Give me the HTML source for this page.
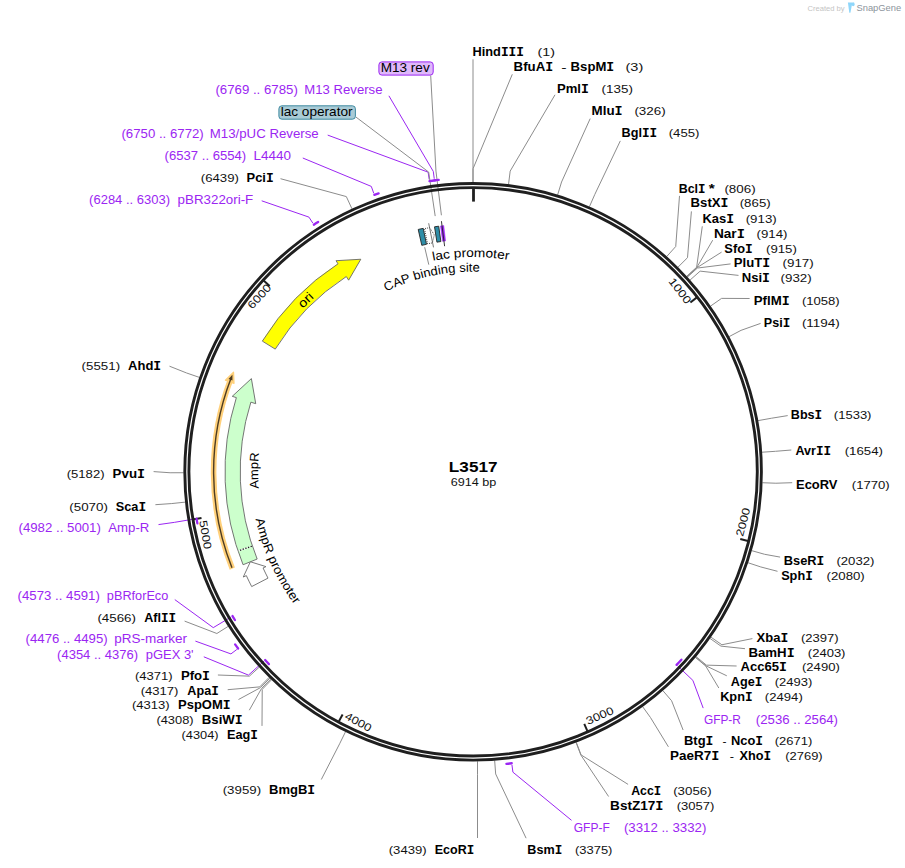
<!DOCTYPE html>
<html><head><meta charset="utf-8"><style>
html,body{margin:0;padding:0;background:#fff;width:905px;height:868px;overflow:hidden}
svg{display:block}
text{font-family:"Liberation Sans", sans-serif}
</style></head><body>
<svg width="905" height="868" viewBox="0 0 905 868">
<rect width="905" height="868" fill="#fff"/>
<polyline points="473.00,182.30 473.00,168.80 473.00,59.30" fill="none" stroke="#8c8c8c" stroke-width="1"/>
<polyline points="473.00,182.30 473.00,168.80 512.30,74.30" fill="none" stroke="#8c8c8c" stroke-width="1"/>
<polyline points="508.53,184.48 510.18,171.08 555.00,94.80" fill="none" stroke="#8c8c8c" stroke-width="1"/>
<polyline points="557.62,194.91 561.56,182.00 590.20,118.60" fill="none" stroke="#8c8c8c" stroke-width="1"/>
<polyline points="589.42,206.70 594.85,194.34 620.30,140.90" fill="none" stroke="#8c8c8c" stroke-width="1"/>
<polyline points="666.69,256.55 675.72,246.51 679.50,195.90" fill="none" stroke="#8c8c8c" stroke-width="1"/>
<polyline points="677.95,267.23 687.50,257.69 691.40,211.40" fill="none" stroke="#8c8c8c" stroke-width="1"/>
<polyline points="686.67,276.36 696.63,267.25 702.30,226.30" fill="none" stroke="#8c8c8c" stroke-width="1"/>
<polyline points="686.85,276.55 696.82,267.45 712.70,240.20" fill="none" stroke="#8c8c8c" stroke-width="1"/>
<polyline points="687.03,276.75 697.00,267.65 721.60,252.10" fill="none" stroke="#8c8c8c" stroke-width="1"/>
<polyline points="687.38,277.14 697.37,268.06 730.60,263.90" fill="none" stroke="#8c8c8c" stroke-width="1"/>
<polyline points="690.02,280.08 700.13,271.14 738.50,275.40" fill="none" stroke="#8c8c8c" stroke-width="1"/>
<polyline points="710.50,306.11 721.57,298.39 749.60,298.50" fill="none" stroke="#8c8c8c" stroke-width="1"/>
<polyline points="729.11,336.64 741.05,330.34 760.60,323.40" fill="none" stroke="#8c8c8c" stroke-width="1"/>
<polyline points="758.04,420.64 771.33,418.25 787.70,415.60" fill="none" stroke="#8c8c8c" stroke-width="1"/>
<polyline points="761.94,452.22 775.41,451.30 791.30,450.00" fill="none" stroke="#8c8c8c" stroke-width="1"/>
<polyline points="762.39,482.72 775.88,483.22 792.20,482.70" fill="none" stroke="#8c8c8c" stroke-width="1"/>
<polyline points="751.66,550.64 764.65,554.31 780.10,557.10" fill="none" stroke="#8c8c8c" stroke-width="1"/>
<polyline points="747.96,562.71 760.77,566.95 777.50,571.30" fill="none" stroke="#8c8c8c" stroke-width="1"/>
<polyline points="710.80,637.05 721.89,644.76 752.40,638.60" fill="none" stroke="#8c8c8c" stroke-width="1"/>
<polyline points="709.90,638.35 720.94,646.11 745.00,648.70" fill="none" stroke="#8c8c8c" stroke-width="1"/>
<polyline points="696.00,656.53 706.40,665.14 736.60,666.00" fill="none" stroke="#8c8c8c" stroke-width="1"/>
<polyline points="695.50,657.14 705.87,665.78 726.80,675.80" fill="none" stroke="#8c8c8c" stroke-width="1"/>
<polyline points="695.33,657.34 705.69,665.99 718.80,688.00" fill="none" stroke="#8c8c8c" stroke-width="1"/>
<polyline points="662.75,690.53 671.59,700.73 683.10,730.00" fill="none" stroke="#8c8c8c" stroke-width="1"/>
<polyline points="642.54,706.54 650.44,717.48 668.40,746.80" fill="none" stroke="#8c8c8c" stroke-width="1"/>
<polyline points="576.28,742.29 581.09,754.90 628.10,784.40" fill="none" stroke="#8c8c8c" stroke-width="1"/>
<polyline points="576.03,742.38 580.83,755.00 608.60,796.50" fill="none" stroke="#8c8c8c" stroke-width="1"/>
<polyline points="494.65,760.50 495.66,773.96 526.10,838.20" fill="none" stroke="#8c8c8c" stroke-width="1"/>
<polyline points="477.50,761.26 477.50,774.76 477.50,838.00" fill="none" stroke="#8c8c8c" stroke-width="1"/>
<polyline points="345.56,731.69 339.62,743.81 321.30,779.50" fill="none" stroke="#8c8c8c" stroke-width="1"/>
<polyline points="271.63,679.69 262.23,689.39 262.00,725.90" fill="none" stroke="#8c8c8c" stroke-width="1"/>
<polyline points="270.87,678.96 261.44,688.62 249.30,710.20" fill="none" stroke="#8c8c8c" stroke-width="1"/>
<polyline points="269.93,678.04 260.46,687.65 238.50,699.50" fill="none" stroke="#8c8c8c" stroke-width="1"/>
<polyline points="269.18,677.30 259.68,686.88 227.70,689.70" fill="none" stroke="#8c8c8c" stroke-width="1"/>
<polyline points="259.35,667.05 249.38,676.15 217.90,675.00" fill="none" stroke="#8c8c8c" stroke-width="1"/>
<polyline points="228.28,626.31 216.86,633.51 184.60,621.10" fill="none" stroke="#8c8c8c" stroke-width="1"/>
<polyline points="185.19,502.13 171.77,503.55 155.40,504.70" fill="none" stroke="#8c8c8c" stroke-width="1"/>
<polyline points="183.60,472.72 170.10,472.76 153.60,471.60" fill="none" stroke="#8c8c8c" stroke-width="1"/>
<polyline points="199.42,377.40 186.66,373.00 169.50,366.20" fill="none" stroke="#8c8c8c" stroke-width="1"/>
<polyline points="351.98,208.86 346.33,196.59 280.50,178.70" fill="none" stroke="#8c8c8c" stroke-width="1"/>
<polyline points="231.18,616.90 213.25,627.65 174.80,599.60" fill="none" stroke="#9b26f2" stroke-width="1"/>
<polyline points="236.84,649.46 230.93,653.91 195.40,641.10" fill="none" stroke="#9b26f2" stroke-width="1"/>
<polyline points="263.95,661.11 248.46,675.13 203.80,656.80" fill="none" stroke="#9b26f2" stroke-width="1"/>
<polyline points="194.96,518.88 174.35,522.37 158.50,524.60" fill="none" stroke="#9b26f2" stroke-width="1"/>
<polyline points="312.96,223.34 308.95,217.12 261.70,200.80" fill="none" stroke="#9b26f2" stroke-width="1"/>
<polyline points="373.80,193.38 371.31,186.41 302.80,158.00" fill="none" stroke="#9b26f2" stroke-width="1"/>
<polyline points="429.21,179.48 428.11,172.16 327.70,135.10" fill="none" stroke="#9b26f2" stroke-width="1"/>
<polyline points="434.26,178.76 433.29,171.43 388.90,95.80" fill="none" stroke="#9b26f2" stroke-width="1"/>
<polyline points="677.72,666.00 692.88,680.38 703.20,708.10" fill="none" stroke="#9b26f2" stroke-width="1"/>
<polyline points="511.94,764.84 512.91,772.17 571.50,820.30" fill="none" stroke="#9b26f2" stroke-width="1"/>
<polyline points="435.20,216.09 428.68,172.07 355.90,117.00" fill="none" stroke="#8c8c8c" stroke-width="1"/>
<polyline points="441.42,215.25 435.96,171.08 430.70,75.50" fill="none" stroke="#8c8c8c" stroke-width="1"/>
<circle cx="473.1" cy="471.8" r="288.3" fill="none" stroke="#1f1f1f" stroke-width="2.9"/>
<circle cx="473.1" cy="471.8" r="284.2" fill="none" stroke="#1f1f1f" stroke-width="2.9"/>
<line x1="473.50" y1="187.30" x2="473.50" y2="201.60" stroke="#1f1f1f" stroke-width="2.8"/>
<line x1="697.50" y1="296.91" x2="690.40" y2="302.44" stroke="#1f1f1f" stroke-width="2"/>
<line x1="748.98" y1="541.28" x2="740.26" y2="539.09" stroke="#1f1f1f" stroke-width="2"/>
<line x1="587.89" y1="732.12" x2="584.26" y2="723.88" stroke="#1f1f1f" stroke-width="2"/>
<line x1="338.34" y1="722.36" x2="342.60" y2="714.43" stroke="#1f1f1f" stroke-width="2"/>
<line x1="192.63" y1="519.53" x2="201.51" y2="518.02" stroke="#1f1f1f" stroke-width="2"/>
<line x1="263.04" y1="279.93" x2="269.69" y2="286.00" stroke="#1f1f1f" stroke-width="2"/>
<path d="M234.94,619.99 A280.5,280.5 0 0 1 232.55,616.08" fill="none" stroke="#9b26f2" stroke-width="2.3" stroke-linecap="round"/>
<path d="M238.12,648.50 A294.0,294.0 0 0 1 235.11,644.41" fill="none" stroke="#9b26f2" stroke-width="2.3" stroke-linecap="round"/>
<path d="M268.94,664.15 A280.5,280.5 0 0 1 265.14,660.03" fill="none" stroke="#9b26f2" stroke-width="2.3" stroke-linecap="round"/>
<path d="M197.38,523.38 A280.5,280.5 0 0 1 196.53,518.61" fill="none" stroke="#9b26f2" stroke-width="2.3" stroke-linecap="round"/>
<path d="M313.82,224.68 A294.0,294.0 0 0 1 318.12,221.97" fill="none" stroke="#9b26f2" stroke-width="2.3" stroke-linecap="round"/>
<path d="M374.33,194.89 A294.0,294.0 0 0 1 378.62,193.39" fill="none" stroke="#9b26f2" stroke-width="2.3" stroke-linecap="round"/>
<path d="M429.45,181.06 A294.0,294.0 0 0 1 435.27,180.24" fill="none" stroke="#9b26f2" stroke-width="2.3" stroke-linecap="round"/>
<path d="M434.47,180.35 A294.0,294.0 0 0 1 438.71,179.82" fill="none" stroke="#9b26f2" stroke-width="2.3" stroke-linecap="round"/>
<path d="M681.40,659.66 A280.5,280.5 0 0 1 676.56,664.89" fill="none" stroke="#9b26f2" stroke-width="2.3" stroke-linecap="round"/>
<path d="M511.73,763.25 A294.0,294.0 0 0 1 506.43,763.91" fill="none" stroke="#9b26f2" stroke-width="2.3" stroke-linecap="round"/>
<text transform="translate(472.53,56.00) scale(1.0155,1)" font-size="12.6" font-weight="bold" fill="#000">Hind<tspan font-family="Liberation Mono">III</tspan></text>
<text transform="translate(537.55,56.00) scale(1.2950,1)" font-size="11.0" fill="#111">(1)</text>
<text transform="translate(513.60,70.90) scale(1.0524,1)" font-size="12.6" font-weight="bold" fill="#000">BfuA<tspan font-family="Liberation Mono">I</tspan></text>
<text transform="translate(561.36,70.90) scale(1.4545,1)" font-size="11.0" fill="#000">-</text>
<text transform="translate(570.61,70.90) scale(1.0417,1)" font-size="12.6" font-weight="bold" fill="#000">BspM<tspan font-family="Liberation Mono">I</tspan></text>
<text transform="translate(625.53,70.90) scale(1.3196,1)" font-size="11.0" fill="#111">(3)</text>
<text transform="translate(556.91,92.80) scale(1.0403,1)" font-size="12.6" font-weight="bold" fill="#000">Pml<tspan font-family="Liberation Mono">I</tspan></text>
<text transform="translate(601.60,92.80) scale(1.2195,1)" font-size="11.0" fill="#111">(135)</text>
<text transform="translate(591.60,114.60) scale(1.0610,1)" font-size="12.6" font-weight="bold" fill="#000">Mlu<tspan font-family="Liberation Mono">I</tspan></text>
<text transform="translate(634.40,114.60) scale(1.2195,1)" font-size="11.0" fill="#111">(326)</text>
<text transform="translate(621.54,137.40) scale(1.0065,1)" font-size="12.6" font-weight="bold" fill="#000">Bgl<tspan font-family="Liberation Mono">II</tspan></text>
<text transform="translate(668.71,137.40) scale(1.1950,1)" font-size="11.0" fill="#111">(455)</text>
<text transform="translate(678.75,192.90) scale(0.9871,1)" font-size="12.6" font-weight="bold" fill="#000">Bcl<tspan font-family="Liberation Mono">I</tspan></text>
<text transform="translate(708.70,192.90) scale(1.2210,1)" font-size="12.6" font-weight="bold" fill="#000">*</text>
<text transform="translate(724.40,192.90) scale(1.2195,1)" font-size="11.0" fill="#111">(806)</text>
<text transform="translate(690.61,207.40) scale(1.0454,1)" font-size="12.6" font-weight="bold" fill="#000">BstX<tspan font-family="Liberation Mono">I</tspan></text>
<text transform="translate(739.70,207.40) scale(1.2072,1)" font-size="11.0" fill="#111">(865)</text>
<text transform="translate(702.52,222.70) scale(1.0297,1)" font-size="12.6" font-weight="bold" fill="#000">Kas<tspan font-family="Liberation Mono">I</tspan></text>
<text transform="translate(745.70,222.70) scale(1.2072,1)" font-size="11.0" fill="#111">(913)</text>
<text transform="translate(713.88,237.60) scale(1.0842,1)" font-size="12.6" font-weight="bold" fill="#000">Nar<tspan font-family="Liberation Mono">I</tspan></text>
<text transform="translate(756.61,237.60) scale(1.2031,1)" font-size="11.0" fill="#111">(914)</text>
<text transform="translate(724.34,252.50) scale(1.0179,1)" font-size="12.6" font-weight="bold" fill="#000">Sfo<tspan font-family="Liberation Mono">I</tspan></text>
<text transform="translate(766.01,252.50) scale(1.2031,1)" font-size="11.0" fill="#111">(915)</text>
<text transform="translate(733.81,267.40) scale(1.0446,1)" font-size="12.6" font-weight="bold" fill="#000">PluT<tspan font-family="Liberation Mono">I</tspan></text>
<text transform="translate(782.50,267.40) scale(1.2154,1)" font-size="11.0" fill="#111">(917)</text>
<text transform="translate(741.72,282.40) scale(1.0380,1)" font-size="12.6" font-weight="bold" fill="#000">Nsi<tspan font-family="Liberation Mono">I</tspan></text>
<text transform="translate(780.50,282.40) scale(1.2154,1)" font-size="11.0" fill="#111">(932)</text>
<text transform="translate(753.80,304.90) scale(1.0517,1)" font-size="12.6" font-weight="bold" fill="#000">PflM<tspan font-family="Liberation Mono">I</tspan></text>
<text transform="translate(801.91,304.90) scale(1.1913,1)" font-size="11.0" fill="#111">(1058)</text>
<text transform="translate(763.85,326.70) scale(0.9986,1)" font-size="12.6" font-weight="bold" fill="#000">Psi<tspan font-family="Liberation Mono">I</tspan></text>
<text transform="translate(801.89,326.70) scale(1.2240,1)" font-size="11.0" fill="#111">(1194)</text>
<text transform="translate(790.84,419.40) scale(0.9991,1)" font-size="12.6" font-weight="bold" fill="#000">Bbs<tspan font-family="Liberation Mono">I</tspan></text>
<text transform="translate(833.82,419.40) scale(1.1848,1)" font-size="11.0" fill="#111">(1533)</text>
<text transform="translate(795.45,454.50) scale(0.9991,1)" font-size="12.6" font-weight="bold" fill="#000">Avr<tspan font-family="Liberation Mono">II</tspan></text>
<text transform="translate(844.71,454.50) scale(1.2044,1)" font-size="11.0" fill="#111">(1654)</text>
<text transform="translate(796.02,488.60) scale(1.0286,1)" font-size="12.6" font-weight="bold" fill="#000">EcoRV</text>
<text transform="translate(851.81,488.60) scale(1.1913,1)" font-size="11.0" fill="#111">(1770)</text>
<text transform="translate(783.73,564.50) scale(1.0200,1)" font-size="12.6" font-weight="bold" fill="#000">BseR<tspan font-family="Liberation Mono">I</tspan></text>
<text transform="translate(836.41,564.50) scale(1.1979,1)" font-size="11.0" fill="#111">(2032)</text>
<text transform="translate(781.15,579.60) scale(1.0092,1)" font-size="12.6" font-weight="bold" fill="#000">Sph<tspan font-family="Liberation Mono">I</tspan></text>
<text transform="translate(826.51,579.60) scale(1.2044,1)" font-size="11.0" fill="#111">(2080)</text>
<text transform="translate(756.60,641.80) scale(1.0340,1)" font-size="12.6" font-weight="bold" fill="#000">Xba<tspan font-family="Liberation Mono">I</tspan></text>
<text transform="translate(800.92,641.80) scale(1.1881,1)" font-size="11.0" fill="#111">(2397)</text>
<text transform="translate(748.41,656.50) scale(1.0512,1)" font-size="12.6" font-weight="bold" fill="#000">BamH<tspan font-family="Liberation Mono">I</tspan></text>
<text transform="translate(807.82,656.50) scale(1.1848,1)" font-size="11.0" fill="#111">(2403)</text>
<text transform="translate(740.54,671.20) scale(1.0378,1)" font-size="12.6" font-weight="bold" fill="#000">Acc65<tspan font-family="Liberation Mono">I</tspan></text>
<text transform="translate(802.02,671.20) scale(1.1881,1)" font-size="11.0" fill="#111">(2490)</text>
<text transform="translate(730.75,686.30) scale(1.0056,1)" font-size="12.6" font-weight="bold" fill="#000">Age<tspan font-family="Liberation Mono">I</tspan></text>
<text transform="translate(774.72,686.30) scale(1.1815,1)" font-size="11.0" fill="#111">(2493)</text>
<text transform="translate(720.13,701.00) scale(1.0127,1)" font-size="12.6" font-weight="bold" fill="#000">Kpn<tspan font-family="Liberation Mono">I</tspan></text>
<text transform="translate(764.81,701.00) scale(1.1946,1)" font-size="11.0" fill="#111">(2494)</text>
<text transform="translate(684.02,745.10) scale(1.0292,1)" font-size="12.6" font-weight="bold" fill="#000">Btg<tspan font-family="Liberation Mono">I</tspan></text>
<text transform="translate(722.52,745.10) scale(1.0909,1)" font-size="11.0" fill="#000">-</text>
<text transform="translate(731.03,745.10) scale(1.0227,1)" font-size="12.6" font-weight="bold" fill="#000">Nco<tspan font-family="Liberation Mono">I</tspan></text>
<text transform="translate(774.72,745.10) scale(1.1815,1)" font-size="11.0" fill="#111">(2671)</text>
<text transform="translate(670.09,760.00) scale(1.0687,1)" font-size="12.6" font-weight="bold" fill="#000">PaeR7<tspan font-family="Liberation Mono">I</tspan></text>
<text transform="translate(729.79,760.00) scale(1.1636,1)" font-size="11.0" fill="#000">-</text>
<text transform="translate(739.40,760.00) scale(1.0107,1)" font-size="12.6" font-weight="bold" fill="#000">Xho<tspan font-family="Liberation Mono">I</tspan></text>
<text transform="translate(785.22,760.00) scale(1.1782,1)" font-size="11.0" fill="#111">(2769)</text>
<text transform="translate(631.25,795.00) scale(0.9749,1)" font-size="12.6" font-weight="bold" fill="#000">Acc<tspan font-family="Liberation Mono">I</tspan></text>
<text transform="translate(673.20,795.00) scale(1.2077,1)" font-size="11.0" fill="#111">(3056)</text>
<text transform="translate(610.08,809.70) scale(1.0785,1)" font-size="12.6" font-weight="bold" fill="#000">BstZ17<tspan font-family="Liberation Mono">I</tspan></text>
<text transform="translate(676.72,809.70) scale(1.1848,1)" font-size="11.0" fill="#111">(3057)</text>
<text transform="translate(527.34,854.00) scale(1.0020,1)" font-size="12.6" font-weight="bold" fill="#000">Bsm<tspan font-family="Liberation Mono">I</tspan></text>
<text transform="translate(575.02,854.00) scale(1.1750,1)" font-size="11.0" fill="#111">(3375)</text>
<text transform="translate(388.71,854.00) scale(1.1946,1)" font-size="11.0" fill="#111">(3439)</text>
<text transform="translate(434.75,854.00) scale(0.9940,1)" font-size="12.6" font-weight="bold" fill="#000">EcoR<tspan font-family="Liberation Mono">I</tspan></text>
<text transform="translate(222.70,794.00) scale(1.2077,1)" font-size="11.0" fill="#111">(3959)</text>
<text transform="translate(269.02,794.00) scale(1.0344,1)" font-size="12.6" font-weight="bold" fill="#000">BmgB<tspan font-family="Liberation Mono">I</tspan></text>
<text transform="translate(181.53,738.60) scale(1.1652,1)" font-size="11.0" fill="#111">(4304)</text>
<text transform="translate(226.93,738.60) scale(1.0127,1)" font-size="12.6" font-weight="bold" fill="#000">Eag<tspan font-family="Liberation Mono">I</tspan></text>
<text transform="translate(156.43,724.00) scale(1.1684,1)" font-size="11.0" fill="#111">(4308)</text>
<text transform="translate(201.81,724.00) scale(1.0475,1)" font-size="12.6" font-weight="bold" fill="#000">BsiW<tspan font-family="Liberation Mono">I</tspan></text>
<text transform="translate(131.92,709.30) scale(1.1881,1)" font-size="11.0" fill="#111">(4313)</text>
<text transform="translate(178.02,709.30) scale(1.0319,1)" font-size="12.6" font-weight="bold" fill="#000">PspOM<tspan font-family="Liberation Mono">I</tspan></text>
<text transform="translate(140.72,694.60) scale(1.1881,1)" font-size="11.0" fill="#111">(4317)</text>
<text transform="translate(187.35,694.60) scale(1.0023,1)" font-size="12.6" font-weight="bold" fill="#000">Apa<tspan font-family="Liberation Mono">I</tspan></text>
<text transform="translate(134.92,679.90) scale(1.1848,1)" font-size="11.0" fill="#111">(4371)</text>
<text transform="translate(180.91,679.90) scale(1.0451,1)" font-size="12.6" font-weight="bold" fill="#000">Pfo<tspan font-family="Liberation Mono">I</tspan></text>
<text transform="translate(97.40,622.00) scale(1.2143,1)" font-size="11.0" fill="#111">(4566)</text>
<text transform="translate(144.15,622.00) scale(1.0005,1)" font-size="12.6" font-weight="bold" fill="#000">Afl<tspan font-family="Liberation Mono">II</tspan></text>
<text transform="translate(69.30,510.70) scale(1.2143,1)" font-size="11.0" fill="#111">(5070)</text>
<text transform="translate(115.74,510.70) scale(1.0123,1)" font-size="12.6" font-weight="bold" fill="#000">Sca<tspan font-family="Liberation Mono">I</tspan></text>
<text transform="translate(66.71,477.50) scale(1.1913,1)" font-size="11.0" fill="#111">(5182)</text>
<text transform="translate(112.60,477.50) scale(1.0575,1)" font-size="12.6" font-weight="bold" fill="#000">Pvu<tspan font-family="Liberation Mono">I</tspan></text>
<text transform="translate(81.60,369.80) scale(1.2110,1)" font-size="11.0" fill="#111">(5551)</text>
<text transform="translate(128.04,369.80) scale(1.0350,1)" font-size="12.6" font-weight="bold" fill="#000">Ahd<tspan font-family="Liberation Mono">I</tspan></text>
<text transform="translate(200.81,182.00) scale(1.1979,1)" font-size="11.0" fill="#111">(6439)</text>
<text transform="translate(246.52,182.00) scale(1.0268,1)" font-size="12.6" font-weight="bold" fill="#000">Pci<tspan font-family="Liberation Mono">I</tspan></text>
<text transform="translate(17.61,599.90) scale(1.0745,1)" font-size="12.3" fill="#9b26f2">(4573 .. 4591)</text>
<text transform="translate(106.84,599.90) scale(1.0344,1)" font-size="12.3" fill="#9b26f2">pBRforEco</text>
<text transform="translate(25.61,643.40) scale(1.0719,1)" font-size="12.3" fill="#9b26f2">(4476 .. 4495)</text>
<text transform="translate(114.19,643.40) scale(1.0979,1)" font-size="12.3" fill="#9b26f2">pRS-marker</text>
<text transform="translate(57.12,658.70) scale(1.0572,1)" font-size="12.3" fill="#9b26f2">(4354 .. 4376)</text>
<text transform="translate(145.72,658.70) scale(1.0548,1)" font-size="12.3" fill="#9b26f2">pGEX 3&#39;</text>
<text transform="translate(18.51,532.30) scale(1.0758,1)" font-size="12.3" fill="#9b26f2">(4982 .. 5001)</text>
<text transform="translate(108.30,532.30) scale(1.0728,1)" font-size="12.3" fill="#9b26f2">Amp-R</text>
<text transform="translate(89.12,203.80) scale(1.0572,1)" font-size="12.3" fill="#9b26f2">(6284 .. 6303)</text>
<text transform="translate(177.60,203.80) scale(1.0858,1)" font-size="12.3" fill="#9b26f2">pBR322ori-F</text>
<text transform="translate(164.61,159.50) scale(1.0665,1)" font-size="12.3" fill="#9b26f2">(6537 .. 6554)</text>
<text transform="translate(253.52,159.50) scale(1.0984,1)" font-size="12.3" fill="#9b26f2">L4440</text>
<text transform="translate(121.41,137.60) scale(1.0758,1)" font-size="12.3" fill="#9b26f2">(6750 .. 6772)</text>
<text transform="translate(209.84,137.60) scale(1.0768,1)" font-size="12.3" fill="#9b26f2">M13/pUC Reverse</text>
<text transform="translate(215.41,93.90) scale(1.0772,1)" font-size="12.3" fill="#9b26f2">(6769 .. 6785)</text>
<text transform="translate(304.35,93.90) scale(1.0681,1)" font-size="12.3" fill="#9b26f2">M13 Reverse</text>
<text transform="translate(755.81,723.70) scale(1.0745,1)" font-size="12.3" fill="#9b26f2">(2536 .. 2564)</text>
<text transform="translate(703.91,723.70) scale(0.9669,1)" font-size="12.3" fill="#9b26f2">GFP-R</text>
<text transform="translate(623.91,831.80) scale(1.0772,1)" font-size="12.3" fill="#9b26f2">(3312 .. 3332)</text>
<text transform="translate(573.80,831.80) scale(0.9749,1)" font-size="12.3" fill="#9b26f2">GFP-F</text>
<text transform="translate(680.25,290.95) rotate(52.07) translate(-14.93,3.80) scale(1.2016,1)" font-size="11.0" fill="#111">1000</text>
<text transform="translate(743.00,521.90) rotate(-75.86) translate(-14.65,3.80) scale(1.1903,1)" font-size="11.0" fill="#111">2000</text>
<text transform="translate(599.75,715.60) rotate(-23.80) translate(-14.39,3.80) scale(1.1793,1)" font-size="11.0" fill="#111">3000</text>
<text transform="translate(358.25,721.90) rotate(28.27) translate(-14.26,3.80) scale(1.1739,1)" font-size="11.0" fill="#111">4000</text>
<text transform="translate(205.50,534.80) rotate(80.34) translate(-14.52,3.80) scale(1.1848,1)" font-size="11.0" fill="#111">5000</text>
<text transform="translate(259.40,296.35) rotate(-47.59) translate(-14.65,3.80) scale(1.1903,1)" font-size="11.0" fill="#111">6000</text>
<path d="M262.33,341.11 A248.0,248.0 0 0 1 338.03,263.81 L336.01,260.71 L360.80,259.24 L348.65,280.16 L346.31,276.56 A232.8,232.8 0 0 0 275.24,349.12 Z" fill="#ffff00" stroke="#666" stroke-width="0.9" stroke-linejoin="miter"/>
<path d="M243.07,564.74 A248.1,248.1 0 0 1 236.35,397.61 L232.25,396.32 L251.39,378.60 L255.72,403.68 L250.86,402.15 A232.9,232.9 0 0 0 257.16,559.05 Z" fill="#ccffcc" stroke="#666" stroke-width="0.9" stroke-linejoin="miter"/>
<line x1="251.89" y1="546.25" x2="238.43" y2="550.77" stroke="#fff" stroke-width="1.3"/>
<line x1="251.89" y1="546.25" x2="238.43" y2="550.77" stroke="#222" stroke-width="1.3" stroke-dasharray="1.4,1.4"/>
<path d="M251.68,586.57 A249.4,249.4 0 0 1 246.34,575.62 L243.25,577.04 L250.39,561.78 L265.98,566.63 L263.07,567.96 A231.0,231.0 0 0 0 268.01,578.11 Z" fill="#ffffff" stroke="#6a6a6a" stroke-width="0.9" stroke-linejoin="miter"/>
<path d="M232.33,568.59 A259.5,259.5 0 0 1 230.67,379.23" fill="none" stroke="#ffd07a" stroke-width="5.6"/>
<path d="M234.03,383.37 L233.53,372.08 L225.40,380.17 Z" fill="#ffd07a" stroke="#ffd07a" stroke-width="1.2" stroke-linejoin="round"/>
<path d="M231.99,567.75 A259.5,259.5 0 0 1 230.84,378.80" fill="none" stroke="#4d3c22" stroke-width="1.4"/>
<path d="M232.48,380.40 L232.41,374.80 L228.55,378.90 Z" fill="#4d3c22"/>
<path d="M418.21,229.44 L423.22,228.36 L426.49,244.33 L421.81,245.33 Z" fill="#2f8ea8" stroke="#222" stroke-width="0.9"/>
<path d="M427.54,243.81 L424.51,228.61 L429.61,227.64 L434.32,234.95 L432.33,242.90 Z" fill="#fff" stroke="#222" stroke-width="0.8" stroke-dasharray="1,1"/>
<line x1="428.69" y1="223.24" x2="433.53" y2="247.36" stroke="#555" stroke-width="0.8"/>
<path d="M434.52,226.82 L438.71,226.20 L440.86,241.55 L436.93,242.13 Z" fill="#2f8ea8" stroke="#222" stroke-width="0.9"/>
<path d="M440.51,225.95 L443.74,225.54 L445.57,240.94 L442.55,241.32 Z" fill="#9b26f2" stroke="#9b26f2" stroke-width="0.5"/>
<line x1="441.44" y1="221.19" x2="444.60" y2="246.19" stroke="#222" stroke-width="0.9"/>
<line x1="424.68" y1="247.26" x2="428.81" y2="264.68" stroke="#8c8c8c" stroke-width="1"/>
<rect x="378.9" y="61.9" width="54.3" height="13.2" rx="3" ry="3" fill="#dfb8fb" stroke="#9b26f2" stroke-width="1"/>
<text transform="translate(380.72,71.90) scale(1.0936,1)" font-size="12.4" fill="#000">M13 rev</text>
<rect x="278.9" y="105.8" width="76.5" height="13.4" rx="3" ry="3" fill="#a9cbd6" stroke="#3f8aa0" stroke-width="1"/>
<text transform="translate(280.68,115.70) scale(1.0995,1)" font-size="12.4" fill="#000">lac operator</text>
<text transform="translate(434.43,260.51) rotate(-10.37) scale(1.0969,1)" font-size="12.5" fill="#000" text-anchor="middle">l</text>
<text transform="translate(439.69,259.61) rotate(-8.95) scale(1.0969,1)" font-size="12.5" fill="#000" text-anchor="middle">a</text>
<text transform="translate(446.86,258.61) rotate(-7.02) scale(1.0969,1)" font-size="12.5" fill="#000" text-anchor="middle">c</text>
<text transform="translate(457.85,257.54) rotate(-4.07) scale(1.0969,1)" font-size="12.5" fill="#000" text-anchor="middle">p</text>
<text transform="translate(463.94,257.20) rotate(-2.44) scale(1.0969,1)" font-size="12.5" fill="#000" text-anchor="middle">r</text>
<text transform="translate(470.03,257.02) rotate(-0.82) scale(1.0969,1)" font-size="12.5" fill="#000" text-anchor="middle">o</text>
<text transform="translate(479.55,257.10) rotate(1.72) scale(1.0969,1)" font-size="12.5" fill="#000" text-anchor="middle">m</text>
<text transform="translate(489.06,257.59) rotate(4.26) scale(1.0969,1)" font-size="12.5" fill="#000" text-anchor="middle">o</text>
<text transform="translate(494.76,258.09) rotate(5.79) scale(1.0969,1)" font-size="12.5" fill="#000" text-anchor="middle">t</text>
<text transform="translate(500.44,258.75) rotate(7.31) scale(1.0969,1)" font-size="12.5" fill="#000" text-anchor="middle">e</text>
<text transform="translate(506.47,259.61) rotate(8.94) scale(1.0969,1)" font-size="12.5" fill="#000" text-anchor="middle">r</text>
<text transform="translate(390.39,289.48) rotate(-24.40) scale(1.0456,1)" font-size="12.5" fill="#000" text-anchor="middle">C</text>
<text transform="translate(398.74,285.92) rotate(-21.80) scale(1.0456,1)" font-size="12.5" fill="#000" text-anchor="middle">A</text>
<text transform="translate(406.90,282.86) rotate(-19.31) scale(1.0456,1)" font-size="12.5" fill="#000" text-anchor="middle">P</text>
<text transform="translate(417.98,279.34) rotate(-15.98) scale(1.0456,1)" font-size="12.5" fill="#000" text-anchor="middle">b</text>
<text transform="translate(422.88,278.00) rotate(-14.53) scale(1.0456,1)" font-size="12.5" fill="#000" text-anchor="middle">i</text>
<text transform="translate(427.82,276.79) rotate(-13.07) scale(1.0456,1)" font-size="12.5" fill="#000" text-anchor="middle">n</text>
<text transform="translate(434.93,275.27) rotate(-10.99) scale(1.0456,1)" font-size="12.5" fill="#000" text-anchor="middle">d</text>
<text transform="translate(439.94,274.37) rotate(-9.54) scale(1.0456,1)" font-size="12.5" fill="#000" text-anchor="middle">i</text>
<text transform="translate(444.96,273.59) rotate(-8.08) scale(1.0456,1)" font-size="12.5" fill="#000" text-anchor="middle">n</text>
<text transform="translate(452.18,272.70) rotate(-6.00) scale(1.0456,1)" font-size="12.5" fill="#000" text-anchor="middle">g</text>
<text transform="translate(462.68,271.87) rotate(-2.98) scale(1.0456,1)" font-size="12.5" fill="#000" text-anchor="middle">s</text>
<text transform="translate(467.39,271.68) rotate(-1.63) scale(1.0456,1)" font-size="12.5" fill="#000" text-anchor="middle">i</text>
<text transform="translate(470.66,271.61) rotate(-0.70) scale(1.0456,1)" font-size="12.5" fill="#000" text-anchor="middle">t</text>
<text transform="translate(476.11,271.62) rotate(0.86) scale(1.0456,1)" font-size="12.5" fill="#000" text-anchor="middle">e</text>
<text transform="translate(256.64,523.31) rotate(76.62) scale(1.0732,1)" font-size="12.5" fill="#000" text-anchor="middle">A</text>
<text transform="translate(259.19,533.04) rotate(74.02) scale(1.0732,1)" font-size="12.5" fill="#000" text-anchor="middle">m</text>
<text transform="translate(261.94,541.94) rotate(71.63) scale(1.0732,1)" font-size="12.5" fill="#000" text-anchor="middle">p</text>
<text transform="translate(264.80,550.02) rotate(69.42) scale(1.0732,1)" font-size="12.5" fill="#000" text-anchor="middle">R</text>
<text transform="translate(269.44,561.41) rotate(66.25) scale(1.0732,1)" font-size="12.5" fill="#000" text-anchor="middle">p</text>
<text transform="translate(271.92,566.84) rotate(64.71) scale(1.0732,1)" font-size="12.5" fill="#000" text-anchor="middle">r</text>
<text transform="translate(274.54,572.20) rotate(63.18) scale(1.0732,1)" font-size="12.5" fill="#000" text-anchor="middle">o</text>
<text transform="translate(278.91,580.42) rotate(60.78) scale(1.0732,1)" font-size="12.5" fill="#000" text-anchor="middle">m</text>
<text transform="translate(283.63,588.45) rotate(58.38) scale(1.0732,1)" font-size="12.5" fill="#000" text-anchor="middle">o</text>
<text transform="translate(286.62,593.18) rotate(56.94) scale(1.0732,1)" font-size="12.5" fill="#000" text-anchor="middle">t</text>
<text transform="translate(289.73,597.83) rotate(55.50) scale(1.0732,1)" font-size="12.5" fill="#000" text-anchor="middle">e</text>
<text transform="translate(293.18,602.70) rotate(53.96) scale(1.0732,1)" font-size="12.5" fill="#000" text-anchor="middle">r</text>
<text transform="translate(258.46,484.20) rotate(266.69) scale(1.0321,1)" font-size="12.5" fill="#000" text-anchor="middle">A</text>
<text transform="translate(258.12,474.53) rotate(269.27) scale(1.0321,1)" font-size="12.5" fill="#000" text-anchor="middle">m</text>
<text transform="translate(258.19,465.57) rotate(271.66) scale(1.0321,1)" font-size="12.5" fill="#000" text-anchor="middle">p</text>
<text transform="translate(258.59,457.34) rotate(273.86) scale(1.0321,1)" font-size="12.5" fill="#000" text-anchor="middle">R</text>
<text transform="translate(305.30,299.90) rotate(-44.00) translate(-7.88,4.56) scale(1.1574,1)" font-size="12.5" fill="#000">ori</text>
<text transform="translate(807.52,10.70) scale(0.9745,1)" font-size="7.8" fill="#c4c4c4">Created by</text>
<text transform="translate(856.43,10.70) scale(1.0530,1)" font-size="8.9" fill="#8c949c">SnapGene</text>
<path d="M847.9,2.6 L852.4,2.6 L850.4,12.7 L849.3,12.7 Z" fill="#8fd6fa"/><ellipse cx="853.2" cy="4.2" rx="1.4" ry="2.0" fill="#8fd6fa"/>
<text transform="translate(448.87,471.90) scale(1.1833,1)" font-size="14.5" font-weight="bold" fill="#000">L3517</text>
<text transform="translate(450.77,485.80) scale(1.1087,1)" font-size="11.4" fill="#111">6914 bp</text>
</svg></body></html>
